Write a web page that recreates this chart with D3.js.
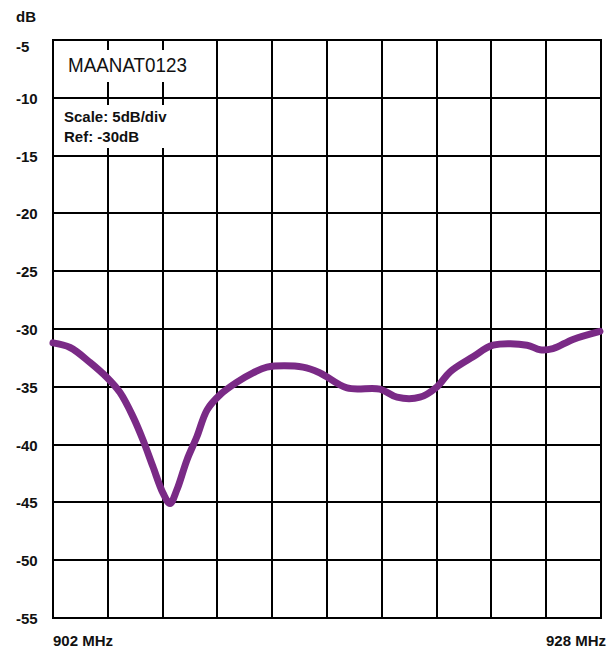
<!DOCTYPE html>
<html>
<head>
<meta charset="utf-8">
<script src="https://cdn.jsdelivr.net/npm/d3@7"></script>
<style>
  html, body { margin: 0; padding: 0; background: #fff; }
  svg { display: block; }
  text { font-family: "Liberation Sans", Arial, sans-serif; fill: #111; }
</style>
</head>
<body>
<script>
// ---- data ----
const freqMHz = [902.0, 902.81, 903.76, 904.56, 905.18, 905.8, 906.27, 906.74, 907.22, 907.55,
                 907.88, 908.36, 908.83, 909.31, 909.92, 910.73, 911.49, 912.15, 913.86, 914.67,
                 915.95, 917.51, 918.32, 919.41, 920.22, 920.84, 921.93, 922.88, 924.49, 925.11,
                 925.72, 926.67, 927.95];
const levelDb = [-31.2, -31.6, -32.9, -34.2, -35.5, -37.6, -39.6, -41.9, -44.2, -45.1,
                 -43.9, -41.3, -39.3, -37.0, -35.7, -34.6, -33.8, -33.3, -33.3, -33.8,
                 -35.1, -35.2, -35.9, -35.9, -35.0, -33.7, -32.4, -31.4, -31.4, -31.8,
                 -31.7, -30.9, -30.2];
const yTickLabels = [-5, -10, -15, -20, -25, -30, -35, -40, -45, -50, -55];
const xDivisions = 10;
const freqStart = 902, freqStop = 928;
const xEndLabels = ["902 MHz", "928 MHz"];
const titleText = "MAANAT0123";
const infoLines = ["Scale: 5dB/div", "Ref: -30dB"];
const unitLabel = "dB";

// ---- layout ----
const W = 616, H = 652;
const plotL = 53, plotR = 601, plotT = 40, plotB = 618;

const x = d3.scaleLinear().domain([freqStart, freqStop]).range([plotL, plotR]);
const y = d3.scaleLinear().domain([-55, -5]).range([plotB, plotT]);

const svg = d3.select("body").append("svg").attr("width", W).attr("height", H);
svg.append("rect").attr("width", W).attr("height", H).attr("fill", "#fff");

const xGrid = d3.range(xDivisions + 1).map(i => freqStart + i * (freqStop - freqStart) / xDivisions);

// grid
const g = svg.append("g").attr("stroke", "#000").attr("stroke-width", 2).attr("shape-rendering", "crispEdges");
g.selectAll("line.v").data(xGrid).join("line").attr("class", "v")
  .attr("x1", d => Math.round(x(d))).attr("x2", d => Math.round(x(d)))
  .attr("y1", Math.round(y(-5)) - 1).attr("y2", Math.round(y(-55)) + 1);
g.selectAll("line.h").data(yTickLabels).join("line").attr("class", "h")
  .attr("x1", Math.round(x(freqStart)) - 1).attr("x2", Math.round(x(freqStop)) + 1)
  .attr("y1", d => Math.round(y(d))).attr("y2", d => Math.round(y(d)));

// white label boxes
svg.append("rect").attr("x", 66).attr("y", 50).attr("width", 123).attr("height", 32).attr("fill", "#fff");
svg.append("rect").attr("x", 63).attr("y", 105).attr("width", 110).attr("height", 43).attr("fill", "#fff");

svg.append("text").attr("x", 68).attr("y", 72).attr("font-size", 21)
  .attr("textLength", 119).attr("lengthAdjust", "spacingAndGlyphs").text(titleText);
svg.selectAll("text.info").data(infoLines).join("text").attr("class", "info")
  .attr("x", 64).attr("y", (d, i) => 122 + i * 20).attr("font-size", 15).attr("font-weight", "bold")
  .text(d => d);

// y labels
svg.selectAll("text.yl").data(yTickLabels).join("text").attr("class", "yl")
  .attr("x", 16).attr("y", d => Math.max(y(d) + 6, 52))
  .attr("font-size", 15).attr("font-weight", "bold").text(d => d);
svg.append("text").attr("x", 16).attr("y", 22).attr("font-size", 15).attr("font-weight", "bold").text(unitLabel);

// x labels
svg.append("text").attr("x", x(freqStart)).attr("y", 646).attr("font-size", 15).attr("font-weight", "bold").text(xEndLabels[0]);
svg.append("text").attr("x", x(freqStop) + 5).attr("y", 646).attr("text-anchor", "end")
  .attr("font-size", 15).attr("font-weight", "bold").text(xEndLabels[1]);

// curve
const pts = freqMHz.map((f, i) => [f, levelDb[i]]);
const line = d3.line().x(d => x(d[0])).y(d => y(d[1])).curve(d3.curveCatmullRom.alpha(0.5));
svg.append("path").datum(pts).attr("d", line).attr("fill", "none")
  .attr("stroke", "#7a2a86").attr("stroke-width", 7).attr("stroke-linejoin", "round").attr("stroke-linecap", "round");
</script>
</body>
</html>
